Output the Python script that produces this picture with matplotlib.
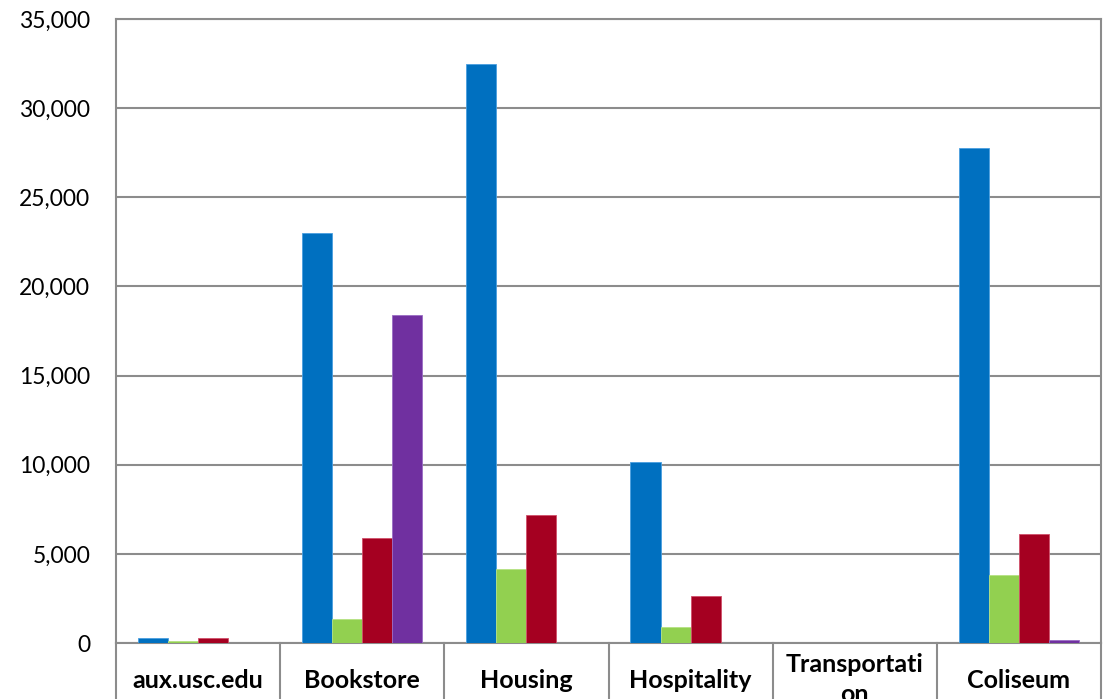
import numpy as np
import matplotlib
matplotlib.use("Agg")
import matplotlib.pyplot as plt
import matplotlib.transforms as mtransforms
from matplotlib.ticker import FuncFormatter, MultipleLocator

# ---- data ----
categories = ["aux.usc.edu", "Bookstore", "Housing", "Hospitality", "Transportati\non", "Coliseum"]
series_blue = [260, 23000, 32500, 10150, 0, 27750]
series_green = [120, 1350, 4150, 900, 0, 3800]
series_red = [260, 5900, 7200, 2650, 0, 6100]
series_purple = [0, 18400, 0, 0, 0, 170]
series = [series_blue, series_green, series_red, series_purple]
colors = ["#0070C0", "#92D050", "#A50021", "#7030A0"]
edge_colors = ["#4A9FE0", "#B5E283", "#D0506A", "#9A6CC4"]

plt.rcParams['font.family'] = ['Lato', 'DejaVu Sans']

W, H = 1103, 699
fig = plt.figure(figsize=(W / 100, H / 100), dpi=100)
left, right, top, bottom = 116, 1101, 19, 643
ax = fig.add_axes([left / W, (H - bottom) / H, (right - left) / W, (bottom - top) / H])

x = np.arange(len(categories))
bw = 0.183
for i, (vals, c, ec) in enumerate(zip(series, colors, edge_colors)):
    ax.bar(x + (i - 1.5) * bw, vals, width=bw, color=c, edgecolor=ec, linewidth=0.6, zorder=3)

grid_color = "#8C8C8C"
ax.set_xlim(-0.5, len(categories) - 0.5)
ax.set_ylim(0, 35000)
ax.yaxis.set_major_locator(MultipleLocator(5000))
ax.yaxis.set_major_formatter(FuncFormatter(lambda v, p: f"{int(v):,}"))
ax.yaxis.grid(True, color=grid_color, linewidth=1.5, zorder=0)
ax.set_axisbelow(True)
ax.tick_params(axis='y', length=0, pad=18.5, labelsize=16.5, labelcolor="#000000")
ax.set_xticks([])
for s in ax.spines.values():
    s.set_color(grid_color)
    s.set_linewidth(1.5)

# category divider lines and labels below the axis
trans = mtransforms.blended_transform_factory(ax.transData, ax.transAxes)
for b in np.arange(-0.5, len(categories)):
    ax.plot([b, b], [0, -0.2], transform=trans, color=grid_color, linewidth=1.5, clip_on=False)

for xi, lab in zip(x, categories):
    if "\n" in lab:
        ax.text(xi, (bottom - 653) / (bottom - top), lab, transform=trans, ha='center', va='top',
                fontsize=18, fontweight='bold', linespacing=1.35)
    else:
        ax.text(xi, (bottom - 688) / (bottom - top), lab, transform=trans, ha='center', va='baseline',
                fontsize=18, fontweight='bold')

fig.savefig("out.png", dpi=100)
